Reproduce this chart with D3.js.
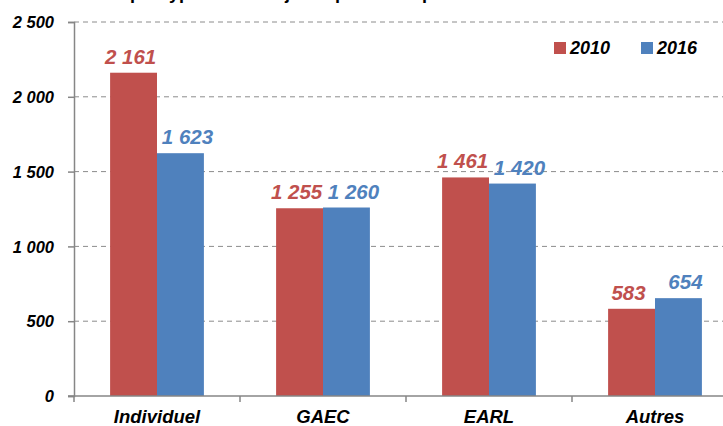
<!DOCTYPE html>
<html>
<head>
<meta charset="utf-8">
<script src="https://cdn.jsdelivr.net/npm/d3@7"></script>
<style>
  body { margin: 0; background: #fff; }
  svg { font-family: "Liberation Sans", Arial, sans-serif; }
</style>
</head>
<body>
<div id="chart"></div>
<script>
    // data
    let categories = ["Individuel", "GAEC", "EARL", "Autres"];
    let years = ["2010", "2016"];
    let values2010 = [2161, 1255, 1461, 583];
    let values2016 = [1623, 1260, 1420, 654];
    let yTicks = [0, 500, 1000, 1500, 2000, 2500];
    let colors = ["#C0504D", "#4F81BD"];

    let width = 723, height = 426;
    let margin = { top: 22, bottom: 30, left: 74, right: -15 };

    let fmt = v => d3.format(",")(v).replace(/,/g, " ");

    let svg = d3.select("#chart").append("svg")
      .attr("width", width)
      .attr("height", height)

    function boldItalic(sel, size) {
      sel.style("font-family", "'Liberation Sans', Arial, sans-serif")
        .style("font-size", size)
        .style("font-weight", "bold")
        .style("font-style", "italic")
    }

    // title, mostly above the visible frame
    svg.append("text")
      .attr("x", 54)
      .attr("y", -1)
      .style("font-size", "18px")
      .style("font-weight", "bold")
      .text("Effectifs par type de statut juridique des exploitations")

    let x = d3.scaleBand()
      .domain(categories)
      .range([margin.left, width - margin.right])

    let xInner = d3.scaleBand()
      .domain(years)
      .range([0, x.bandwidth()])
      .paddingInner(0)
      .paddingOuter(0.77)

    let y = d3.scaleLinear()
      .domain([0, 2500])
      .range([height - margin.bottom, margin.top])

    // grid lines
    svg.append("g")
      .selectAll("line")
      .data(yTicks.filter(d => d > 0))
      .join("line")
      .attr("x1", margin.left)
      .attr("x2", width)
      .attr("y1", d => y(d))
      .attr("y2", d => y(d))
      .attr("stroke", "#8c8c8c")
      .attr("stroke-dasharray", "5,4")

    let rows = categories.map((c, i) => ({ cat: c, vals: [values2010[i], values2016[i]] }));

    let groups = svg.append("g")
      .selectAll("g")
      .data(rows)
      .join("g")
      .attr("transform", d => `translate(${x(d.cat)},0)`)

    groups.selectAll("rect")
      .data(d => d.vals.map((v, j) => ({ year: years[j], v: v, j: j })))
      .join("rect")
      .attr("x", d => xInner(d.year))
      .attr("y", d => y(d.v))
      .attr("width", xInner.bandwidth())
      .attr("height", d => y(0) - y(d.v))
      .attr("fill", d => colors[d.j])

    // labels nudged apart like the original (2010 a bit left, 2016 a bit right)
    groups.selectAll("text")
      .data(d => d.vals.map((v, j) => ({ year: years[j], v: v, j: j })))
      .join("text")
      .attr("x", d => xInner(d.year) + xInner.bandwidth() / 2 + (d.j === 0 ? -3 : 7))
      .attr("y", d => y(d.v) - 9)
      .attr("text-anchor", "middle")
      .attr("fill", d => colors[d.j])
      .call(boldItalic, "20.5px")
      .text(d => fmt(d.v))

    // y axis
    let yAxis = d3.axisLeft(y).tickValues(yTicks).tickSize(6).tickFormat(fmt);
    let gy = svg.append("g")
      .attr("transform", `translate(${margin.left},0)`)
      .call(yAxis)
    gy.select(".domain").attr("stroke", "#868686").attr("stroke-width", 1.5)
    gy.selectAll(".tick line").attr("stroke", "#868686").attr("stroke-width", 1.5)
    gy.selectAll(".tick text")
      .attr("x", -20)
      .attr("dy", "0.35em")
      .attr("fill", "#000")
      .call(boldItalic, "16.5px")

    // x axis
    let gx = svg.append("g")
      .attr("transform", `translate(0,${y(0)})`)
    gx.append("line")
      .attr("x1", margin.left - 6)
      .attr("x2", width)
      .attr("stroke", "#868686")
      .attr("stroke-width", 1.5)
    gx.selectAll("line.tick")
      .data(categories)
      .join("line")
      .attr("class", "tick")
      .attr("x1", d => x(d))
      .attr("x2", d => x(d))
      .attr("y1", 0)
      .attr("y2", 6)
      .attr("stroke", "#868686")
      .attr("stroke-width", 1.5)
    gx.selectAll("text")
      .data(categories)
      .join("text")
      .attr("x", d => x(d) + x.bandwidth() / 2)
      .attr("y", 27)
      .attr("text-anchor", "middle")
      .call(boldItalic, "18.5px")
      .text(d => d)

    // legend
    let legend = svg.append("g")
      .selectAll("g")
      .data(years)
      .join("g")
      .attr("transform", (d, i) => `translate(${554 + i * 87},42)`)
    legend.append("rect")
      .attr("width", 12)
      .attr("height", 12)
      .attr("fill", (d, i) => colors[i])
    legend.append("text")
      .attr("x", 16)
      .attr("y", 12)
      .call(boldItalic, "18px")
      .text(d => d)
</script>
</body>
</html>
